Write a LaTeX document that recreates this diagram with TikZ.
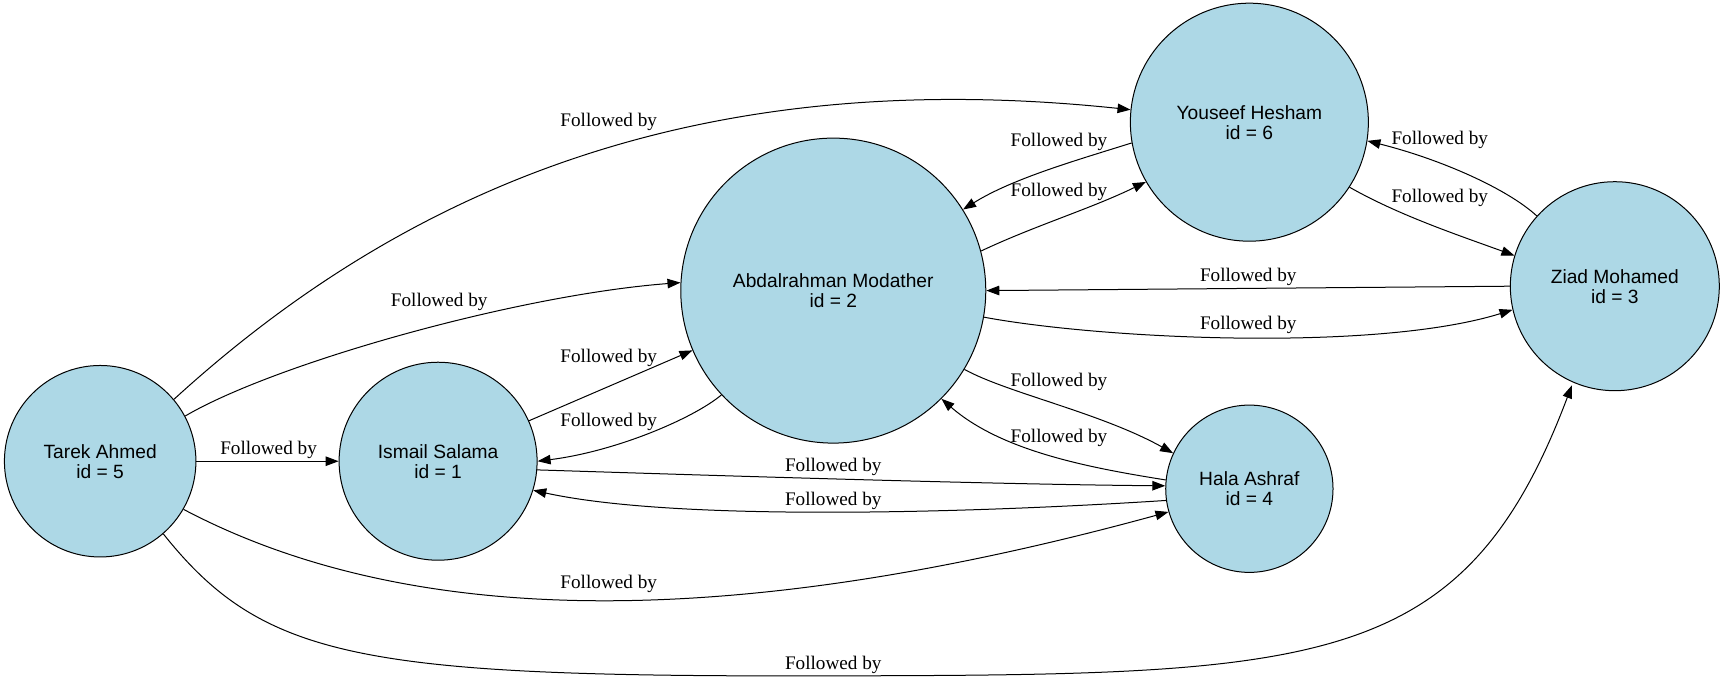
\documentclass[tikz,border=0pt]{standalone}
\usepackage{fontspec}
\setmainfont{Liberation Serif}
\newfontfamily\arialfont{Liberation Sans}
\usetikzlibrary{arrows.meta}
\definecolor{nodefill}{HTML}{ADD8E6}
\tikzset{
 person/.style={circle, draw=black, fill=nodefill, line width=1pt, inner sep=0pt, align=center, font=\arialfont\fontsize{19.2}{20}\selectfont},
 edge/.style={draw=black, line width=1pt, -{Triangle[length=13pt,width=9.5pt]}},
 lbl/.style={font=\fontsize{19.2}{20}\selectfont, inner sep=0pt}
}
\begin{document}
\begin{tikzpicture}[x=1.1008pt, y=-1.1008pt]
\path[fill=white] (0,0) rectangle (1568,619);
\useasboundingbox (0,0) rectangle (1568,619);
\node[person, minimum size=191.5pt] (t) at (91,419) {Tarek Ahmed\\id = 5};
\node[person, minimum size=198pt] (i) at (398,419) {Ismail Salama\\id = 1};
\node[person, minimum size=305pt] (a) at (757,264) {Abdalrahman Modather\\id = 2};
\node[person, minimum size=238pt] (y) at (1135,111) {Youseef Hesham\\id = 6};
\node[person, minimum size=209pt] (z) at (1467,260) {Ziad Mohamed\\id = 3};
\node[person, minimum size=167.3pt] (h) at (1135,444) {Hala Ashraf\\id = 4};

% Tarek
\draw[edge] (t.40) .. controls (380,160) and (650,60) .. (y.174) node[lbl, at={(553,111)}] {Followed by};
\draw[edge] (t.28.6) .. controls (250,330) and (470,268) .. (a.177.5) node[lbl, at={(399,274)}] {Followed by};
\draw[edge] (t) -- (i) node[lbl, at={(244,409)}] {Followed by};
\draw[edge] (t.-30.6) .. controls (370,570) and (660,575) .. (h.196.8) node[lbl, at={(553,530)}] {Followed by};
\draw[edge] (t.-49.5) .. controls (240,600) and (330,615) .. (757,614) .. controls (1200,613) and (1330,610) .. (1428,350) node[lbl, at={(757,604)}] {Followed by};

% Ismail
\draw[edge] (i.24) -- (a.203.5) node[lbl, at={(553,325)}] {Followed by};
\draw[edge] (a.223) .. controls (630,380) and (560,410) .. (i.0) node[lbl, at={(553,383)}] {Followed by};
\draw[edge] (i.-5) .. controls (650,432) and (900,440) .. (h.178.5) node[lbl, at={(757,424)}] {Followed by};
\draw[edge] (h.188) .. controls (900,465) and (620,475) .. (i.-17) node[lbl, at={(757,455)}] {Followed by};

% Abdalrahman
\draw[edge] (a.-31.7) .. controls (915,357) and (1000,375) .. (h.155.9) node[lbl, at={(962,347)}] {Followed by};
\draw[edge] (h.174) .. controls (990,425) and (910,410) .. (a.-45.6) node[lbl, at={(962,398)}] {Followed by};
\draw[edge] (a.15.6) .. controls (940,205) and (990,190) .. (y.210.4) node[lbl, at={(962,174)}] {Followed by};
\draw[edge] (y.190.7) .. controls (980,145) and (920,162) .. (a.32.8) node[lbl, at={(962,129)}] {Followed by};
\draw[edge] (a.-10.7) .. controls (1000,308) and (1250,320) .. (z.193.6) node[lbl, at={(1134,295)}] {Followed by};
\draw[edge] (z.180) -- (a.0) node[lbl, at={(1134,252)}] {Followed by};

% Youseef / Ziad
\draw[edge] (y.-33.8) .. controls (1270,195) and (1320,212) .. (z.163) node[lbl, at={(1308,180)}] {Followed by};
\draw[edge] (z.138) .. controls (1370,172) and (1310,145) .. (y.-9) node[lbl, at={(1308,127)}] {Followed by};
\end{tikzpicture}
\end{document}
